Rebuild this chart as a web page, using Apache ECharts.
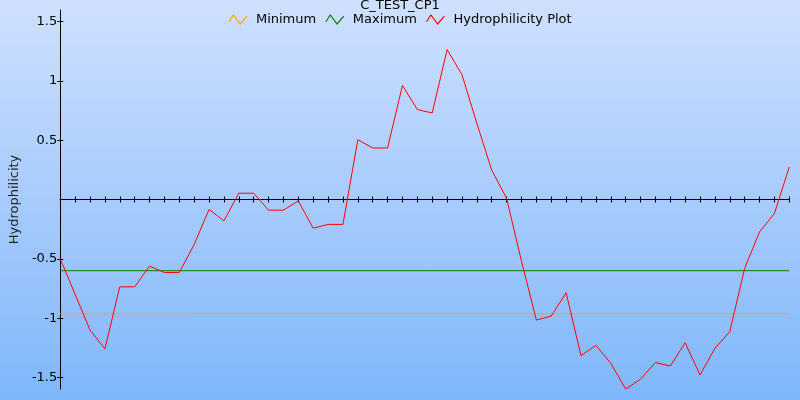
<!DOCTYPE html>
<html>
<head>
<meta charset="utf-8">
<script src="https://cdn.jsdelivr.net/npm/echarts@6/dist/echarts.min.js"></script>
<style>html,body{margin:0;padding:0;}#c{width:800px;height:400px;}</style>
</head>
<body>
<div id="c"></div>
<script>
const chartTitle = 'C_TEST_CP1';
const yName = 'Hydrophilicity';
const categories = [1,2,3,4,5,6,7,8,9,10,11,12,13,14,15,16,17,18,19,20,21,22,23,24,25,26,27,28,29,30,31,32,33,34,35,36,37,38,39,40,41,42,43,44,45,46,47,48,49,50];
const hydrophilicity = [-0.50,-0.80,-1.10,-1.26,-0.736,-0.736,-0.562,-0.615,-0.615,-0.38,-0.084,-0.18,0.053,0.053,-0.09,-0.09,-0.012,-0.242,-0.21,-0.21,0.503,0.434,0.434,0.962,0.758,0.729,1.263,1.052,0.642,0.247,0.01,-0.52,-1.016,-0.982,-0.786,-1.316,-1.229,-1.38,-1.597,-1.515,-1.374,-1.403,-1.207,-1.479,-1.254,-1.114,-0.581,-0.273,-0.118,0.274];
const minimumValue = -0.963;
const maximumValue = -0.600;
const yTicks = [-1.5,-1,-0.5,0.5,1,1.5];
const yMin = -1.597, yMax = 1.597;

const first = categories[0], last = categories[categories.length-1];
const zig = 'path://M0,6 L4,0 L10,8 L16,1';
const legendItem = (name, c) => ({name, icon: zig, itemStyle:{color:'transparent', borderColor:c, borderWidth:1.2}});

const chart = echarts.init(document.getElementById('c'));
chart.setOption({
  animation:false,
  backgroundColor:{type:'linear',x:0,y:0,x2:0,y2:1,colorStops:[{offset:0,color:'#cfe0fe'},{offset:1,color:'#7fb7fa'}]},
  textStyle:{fontFamily:'DejaVu Sans'},
  title:{text:chartTitle,left:'center',top:-1,padding:0,textStyle:{fontSize:13,fontWeight:'normal',color:'#000',fontFamily:'DejaVu Sans'}},
  legend:{top:8,left:'center',itemWidth:18,itemHeight:9,itemGap:9,
    textStyle:{fontSize:13,color:'#000',fontFamily:'DejaVu Sans',padding:[0,0,0,4]},
    data:[legendItem('Minimum','#ffa500'),legendItem('Maximum','#008000'),legendItem('Hydrophilicity Plot','#ff0000')]},
  grid:{left:59.5,right:10.7,top:10,bottom:11,containLabel:false},
  xAxis:[
    {type:'category',data:categories,boundaryGap:false,position:'bottom',
     axisLine:{show:true,onZero:true,lineStyle:{color:'#000',width:1}},
     axisTick:{show:true,interval:0,length:3,lineStyle:{color:'#000'}},
     axisLabel:{show:false},splitLine:{show:false}},
    {type:'category',data:categories,boundaryGap:false,position:'top',
     axisLine:{show:true,onZero:true,lineStyle:{color:'#000',width:1}},
     axisTick:{show:true,interval:0,length:3,lineStyle:{color:'#000'}},
     axisLabel:{show:false},splitLine:{show:false}}
  ],
  yAxis:[
    {type:'value',min:yMin,max:yMax,position:'left',
     name:yName,nameLocation:'middle',nameGap:37,nameTextStyle:{fontSize:13,color:'#222',fontFamily:'DejaVu Sans'},
     axisLine:{show:true,onZero:false,lineStyle:{color:'#000',width:1}},
     axisTick:{show:true,length:3,customValues:yTicks,lineStyle:{color:'#000'}},
     axisLabel:{show:true,customValues:yTicks,margin:3,fontSize:13,color:'#000',fontFamily:'DejaVu Sans'},
     splitLine:{show:false}},
    {type:'value',min:yMin,max:yMax,position:'left',
     axisLine:{show:false,onZero:false},
     axisTick:{show:true,inside:true,length:3,customValues:yTicks,lineStyle:{color:'#000'}},
     axisLabel:{show:false},splitLine:{show:false}}
  ],
  series:[
    {name:'Minimum',type:'line',xAxisIndex:0,yAxisIndex:0,data:[[String(first),minimumValue],[String(last),minimumValue]],
     showSymbol:false,color:'#ffa500',lineStyle:{color:'#ffa500',width:1}},
    {name:'Maximum',type:'line',xAxisIndex:0,yAxisIndex:0,data:[[String(first),maximumValue],[String(last),maximumValue]],
     showSymbol:false,color:'#008000',lineStyle:{color:'#008000',width:1}},
    {name:'Hydrophilicity Plot',type:'line',xAxisIndex:0,yAxisIndex:0,data:hydrophilicity,
     showSymbol:false,color:'#ff0000',lineStyle:{color:'#ff0000',width:1}}
  ]
});
</script>
</body>
</html>
